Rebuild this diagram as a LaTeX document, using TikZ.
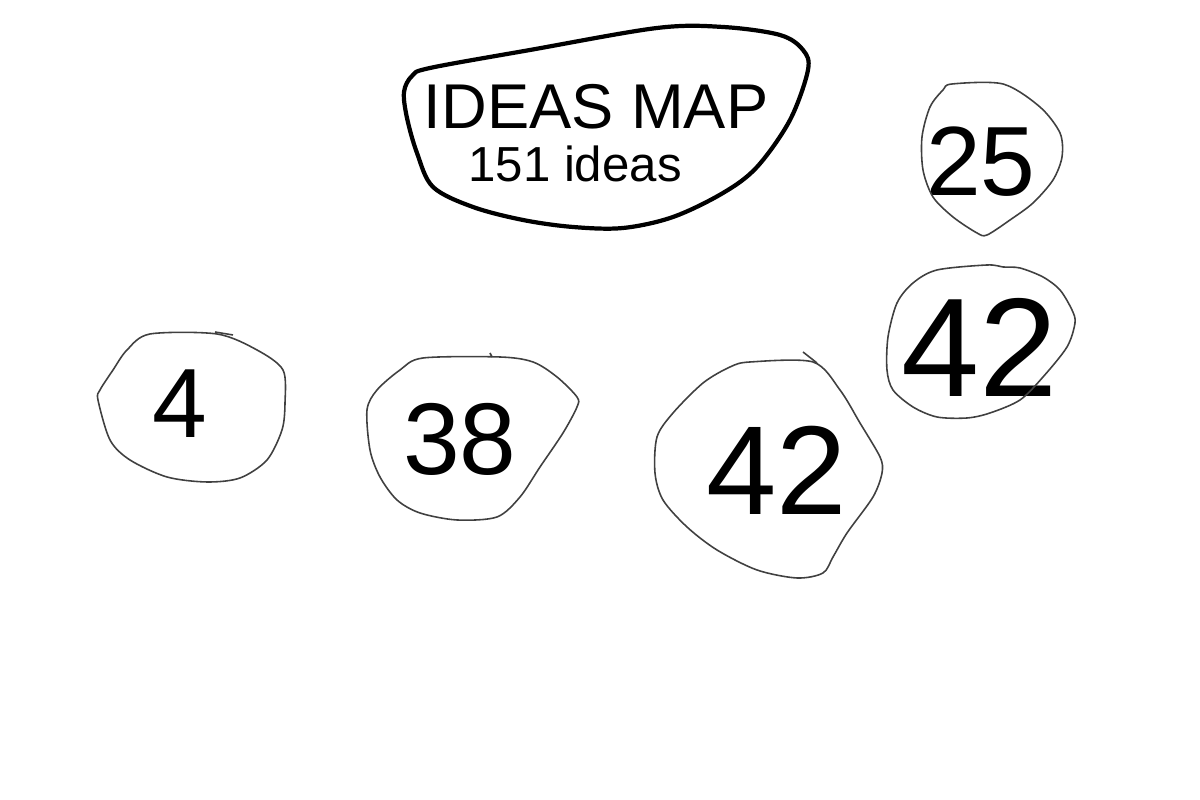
\documentclass[tikz,border=0pt]{standalone}
\usepackage{fontspec}
\setmainfont{Liberation Sans}
\usepackage{tikz}
\usetikzlibrary{positioning}

\begin{document}
\begin{tikzpicture}[-,auto,node distance=1cm, semithick]
 				 \tikzstyle{blob}=[draw=black!75, line width=0.45pt]
 				 \tikzstyle{cloud}=[draw=black, line width=1.2pt, line join=round]
 				 \tikzstyle{num}=[inner sep=0pt, text=black]
 					 \useasboundingbox (0,0) rectangle (12,8);
 					 \node[num, font=\fontsize{18}{18}\selectfont]	(title) at (5.96,6.935) {IDEAS MAP};
  					 \node[num, font=\fontsize{14}{14}\selectfont]	(count) [below=0.15cm of title, xshift=-0.21cm] {151 ideas};
  					 \node[num, font=\fontsize{28}{28}\selectfont]	(four) at (1.80,3.96) {4};
  					 \node[num, font=\fontsize{29}{29}\selectfont]	(thirtyeight) at (4.60,3.61) {38};
  					 \node[num, font=\fontsize{36}{36}\selectfont]	(fortytwo) at (7.77,3.30) {42};
					 \node[num, font=\fontsize{28}{28}\selectfont]	(twentyfive) at (9.81,6.38) {25};
					 \node[num, font=\fontsize{40}{40}\selectfont]	(fortytwotop) at (9.80,4.53) {42};
 					  \draw[cloud] plot[smooth cycle, tension=0.55] coordinates {
 					  			(4.04,7.08) (4.12,7.24) (4.30,7.32) (5.30,7.50) (6.57,7.72) (7.23,7.73) (7.80,7.65)
 					  			(8.03,7.50) (8.08,7.30) (7.90,6.80) (7.57,6.33) (7.23,6.07) (6.73,5.83)
 					  			(6.23,5.72) (5.73,5.73) (5.23,5.80) (4.73,5.93) (4.33,6.13) (4.17,6.47)
 					  			(4.07,6.82)};
 					  \draw[blob] plot[smooth cycle, tension=0.5] coordinates {
 					  			(1.50,4.66) (2.17,4.66) (2.57,4.50) (2.83,4.30) (2.85,3.97) (2.82,3.70)
 					  			(2.67,3.40) (2.40,3.22) (2.07,3.18) (1.67,3.23) (1.30,3.40) (1.10,3.60)
 					  			(0.98,4.00) (1.00,4.10) (1.13,4.30) (1.27,4.50)};
 					  \draw[blob] (2.15,4.68) -- (2.33,4.65);
 					  \draw[blob] plot[smooth cycle, tension=0.5] coordinates {
 					  			(4.23,4.42) (5.00,4.43) (5.33,4.38) (5.57,4.23) (5.77,4.03) (5.77,3.93)
 					  			(5.63,3.67) (5.40,3.33) (5.20,3.03) (4.97,2.83) (4.57,2.80) (4.20,2.87)
 					  			(3.97,3.00) (3.80,3.23) (3.70,3.50) (3.67,3.90) (3.77,4.10) (4.00,4.30)};
 					  \draw[blob] (4.90,4.47) -- (4.92,4.43);
 					  \draw[blob] plot[smooth cycle, tension=0.5] coordinates {
 					  			(7.50,4.38) (8.13,4.38) (8.40,4.10) (8.60,3.77) (8.80,3.43) (8.82,3.27)
 					  			(8.73,3.03) (8.47,2.67) (8.33,2.43) (8.23,2.27) (7.97,2.22) (7.57,2.30)
 					  			(7.17,2.50) (6.87,2.73) (6.63,3.00) (6.55,3.27) (6.57,3.63) (6.73,3.87)
 					  			(7.03,4.17) (7.30,4.33)};
 					  \draw[blob] (8.03,4.48) -- (8.17,4.37);
 					  \draw[blob] plot[smooth cycle, tension=0.5] coordinates {
 					  			(9.52,7.16) (10.03,7.16) (10.40,6.93) (10.60,6.67) (10.62,6.43) (10.53,6.20)
 					  			(10.33,5.97) (10.10,5.80) (9.87,5.65) (9.77,5.67) (9.53,5.83) (9.33,6.03)
 					  			(9.23,6.30) (9.22,6.63) (9.30,6.93) (9.43,7.10)};
 					  \draw[blob] plot[smooth cycle, tension=0.5] coordinates {
 					  			(9.87,5.35) (9.37,5.30) (9.13,5.17) (8.97,4.97) (8.88,4.63) (8.87,4.30)
 					  			(8.93,4.10) (9.13,3.93) (9.37,3.83) (9.67,3.82) (9.90,3.87) (10.20,4.00)
 					  			(10.43,4.23) (10.67,4.53) (10.75,4.77) (10.72,4.90) (10.60,5.10) (10.43,5.23)
 					  			(10.20,5.32) (10.03,5.33)};
				\end{tikzpicture}
\end{document}
